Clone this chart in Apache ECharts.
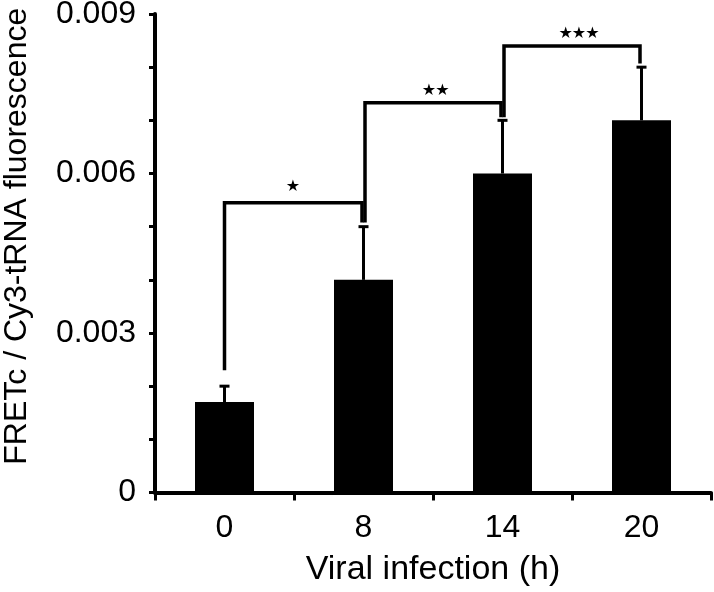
<!DOCTYPE html>
<html>
<head>
<meta charset="utf-8">
<script src="https://cdn.jsdelivr.net/npm/echarts@6/dist/echarts.min.js"></script>
<style>
html,body{margin:0;padding:0;background:#fff;}
#chart{width:714px;height:592px;}
</style>
</head>
<body>
<div id="chart"></div>
<script>
// ---- data ----
const categories = ['0', '8', '14', '20'];
const meanValues = [0.0017, 0.004, 0.006, 0.007];
const errorValues = [0.0003, 0.001, 0.001, 0.001];
// brackets: from index, to index, left leg bottom, right leg bottom, top, star label y, number of stars
const bracketFrom = [0, 1, 2];
const bracketTo = [1, 2, 3];
const bracketLeftBottom = [0.0023, 0.00508, 0.00706];
const bracketRightBottom = [0.00508, 0.00706, 0.00807];
const bracketTop = [0.00545, 0.00733, 0.0084];
const bracketStarY = [0.00575, 0.00755, 0.00862];
const bracketStars = [1, 2, 3];
const yTickLabels = ['0', '0.003', '0.006', '0.009'];

const FONT = 'Liberation Sans';
const chart = echarts.init(document.getElementById('chart'), null, {renderer: 'canvas'});

const errorData = meanValues.map((m, i) => [i, m, m + errorValues[i]]);
const bracketData = bracketFrom.map((f, i) => [f, bracketTo[i], bracketLeftBottom[i], bracketRightBottom[i], bracketTop[i], bracketStarY[i], i]);
const starDx = [-1, 2.6, 7];
const starSpacing = 13.4;

const option = {
  backgroundColor: '#ffffff',
  animation: false,
  grid: {left: 155, right: 3, top: 14, bottom: 99.5, containLabel: false, outerBoundsMode: 'none'},
  xAxis: {
    type: 'category',
    data: categories,
    name: 'Viral infection (h)',
    nameLocation: 'middle',
    nameGap: 60,
    nameTextStyle: {fontFamily: FONT, fontSize: 34, color: '#000'},
    axisLine: {show: true, lineStyle: {color: '#000', width: 4}},
    axisTick: {show: true, length: 8, lineStyle: {color: '#000', width: 3}},
    axisLabel: {fontFamily: FONT, fontSize: 32, color: '#000', margin: 20},
    splitLine: {show: false}
  },
  yAxis: {
    type: 'value',
    min: 0,
    max: 0.009,
    interval: 0.003,
    name: 'FRETc / Cy3-tRNA fluorescence',
    nameLocation: 'middle',
    nameRotate: 90,
    nameGap: 122,
    nameTextStyle: {fontFamily: FONT, fontSize: 32, color: '#000', padding: [0, 0, 0, 34]},
    axisLine: {show: true, lineStyle: {color: '#000', width: 4}},
    axisTick: {show: true, length: 6, lineStyle: {color: '#000', width: 3}},
    minorTick: {show: true, splitNumber: 3, length: 6, lineStyle: {color: '#000', width: 3}},
    axisLabel: {
      fontFamily: FONT, fontSize: 32, color: '#000', margin: 19,
      formatter: function (v) { return yTickLabels[Math.round(v / 0.003)]; }
    },
    splitLine: {show: false}
  },
  series: [
    {
      type: 'bar',
      data: meanValues,
      barWidth: 59,
      itemStyle: {color: '#000'},
      z: 2
    },
    {
      type: 'custom',
      data: errorData,
      z: 3,
      renderItem: function (params, api) {
        const base = api.coord([api.value(0), api.value(1)]);
        const top = api.coord([api.value(0), api.value(2)]);
        const x = base[0];
        return {
          type: 'group',
          children: [
            {type: 'line', shape: {x1: x, y1: base[1], x2: x, y2: top[1]}, style: {stroke: '#000', lineWidth: 3}},
            {type: 'line', shape: {x1: x - 5, y1: top[1], x2: x + 5, y2: top[1]}, style: {stroke: '#000', lineWidth: 3}}
          ]
        };
      }
    },
    {
      type: 'custom',
      data: bracketData,
      z: 4,
      renderItem: function (params, api) {
        const i0 = api.value(0), i1 = api.value(1);
        const lb = api.coord([i0, api.value(2)]);
        const rb = api.coord([i1, api.value(3)]);
        const tl = api.coord([i0, api.value(4)]);
        const tr = api.coord([i1, api.value(4)]);
        const sy = api.coord([i0, api.value(5)])[1];
        const idx = api.value(6);
        const xl = lb[0] + (idx === 0 ? 0 : 1.5);
        const xr = rb[0] - 1.5;
        const n = bracketStars[idx];
        const cx = (lb[0] + rb[0]) / 2 + starDx[idx];
        const children = [
          {type: 'polyline', shape: {points: [[xl, lb[1]], [xl, tl[1]], [xr, tr[1]], [xr, rb[1]]]},
           style: {stroke: '#000', lineWidth: 3.5, fill: null, lineJoin: 'miter'}}
        ];
        for (let k = 0; k < n; k++) {
          children.push({type: 'text', x: cx + (k - (n - 1) / 2) * starSpacing, y: sy,
            style: {text: '★', fontFamily: 'DejaVu Sans', fontSize: 16, fill: '#000',
                    align: 'center', verticalAlign: 'middle'}});
        }
        return {type: 'group', children: children};
      }
    }
  ]
};
chart.setOption(option);
</script>
</body>
</html>
